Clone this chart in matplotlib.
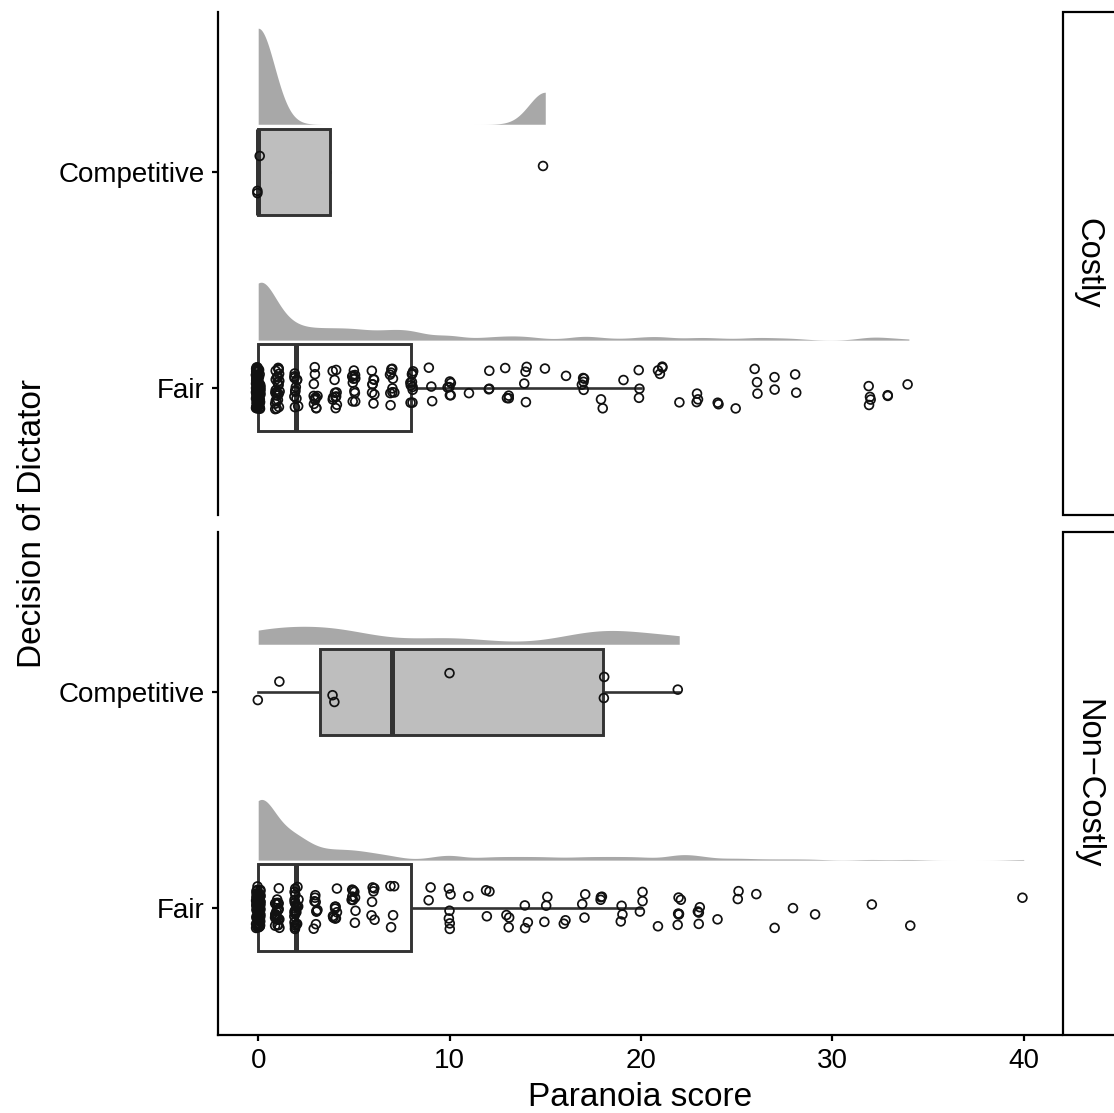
import numpy as np
import matplotlib
matplotlib.use("Agg")
import matplotlib.pyplot as plt
from matplotlib.patches import Rectangle

plt.rcParams["font.family"] = ["Liberation Sans", "DejaVu Sans"]

# facet rows and y categories
CONDITIONS = ["Costly", "Non\u2212Costly"]
DECISIONS = ["Fair", "Competitive"]

# Paranoia scores (value -> number of respondents)
FAIR_COSTLY_SCORES = [0, 1, 2, 3, 4, 5, 6, 7, 8, 9, 10, 11, 12, 13, 14, 15, 16, 17, 18, 19, 20,
                      21, 22, 23, 24, 25, 26, 27, 28, 32, 33, 34]
FAIR_COSTLY_COUNTS = [84, 26, 12, 11, 11, 11, 8, 10, 10, 3, 6, 1, 3, 4, 4, 1, 1, 5, 2, 1, 3,
                      4, 1, 3, 2, 1, 3, 2, 2, 4, 2, 1]
COMP_COSTLY = [0, 0, 0, 15]

FAIR_NONCOSTLY_SCORES = [0, 1, 2, 3, 4, 5, 6, 7, 9, 10, 11, 12, 13, 14, 15, 16, 17, 18, 19, 20,
                         21, 22, 23, 24, 25, 26, 27, 28, 29, 32, 34, 40]
FAIR_NONCOSTLY_COUNTS = [80, 26, 24, 9, 9, 9, 6, 4, 2, 6, 1, 3, 3, 3, 3, 2, 3, 3, 3, 3,
                         1, 6, 4, 1, 2, 1, 1, 1, 1, 1, 1, 1]
COMP_NONCOSTLY = [0, 1, 4, 4, 10, 18, 18, 22]

DATA = {
    ("Costly", "Fair"): np.repeat(FAIR_COSTLY_SCORES, FAIR_COSTLY_COUNTS).astype(float),
    ("Costly", "Competitive"): np.array(COMP_COSTLY, dtype=float),
    ("Non\u2212Costly", "Fair"): np.repeat(FAIR_NONCOSTLY_SCORES, FAIR_NONCOSTLY_COUNTS).astype(float),
    ("Non\u2212Costly", "Competitive"): np.array(COMP_NONCOSTLY, dtype=float),
}

# kernel bandwidths for the half violins
BANDWIDTH = {
    ("Costly", "Fair"): 0.75,
    ("Costly", "Competitive"): 0.85,
    ("Non\u2212Costly", "Fair"): 0.75,
    ("Non\u2212Costly", "Competitive"): 2.2,
}

BOX_FILL = {"Fair": "white", "Competitive": "#BEBEBE"}
CLOUD = "#A8A8A8"
LINE = "#333333"
W, H = 1114, 1113


def kde(values, bw, grid):
    z = (grid[:, None] - values[None, :]) / bw
    return np.exp(-0.5 * z ** 2).sum(axis=1) / (len(values) * bw * np.sqrt(2 * np.pi))


def box_stats(values):
    q1, med, q3 = np.percentile(values, [25, 50, 75])
    iqr = q3 - q1
    lo = values[values >= q1 - 1.5 * iqr].min()
    hi = values[values <= q3 + 1.5 * iqr].max()
    return {"q1": q1, "med": med, "q3": q3, "whislo": lo, "whishi": hi, "fliers": []}


curves = {}
for key, values in DATA.items():
    grid = np.linspace(values.min(), values.max(), 600)
    curves[key] = (grid, kde(values, BANDWIDTH[key], grid))
dens_max = max(d.max() for _, d in curves.values())

fig = plt.figure(figsize=(W / 100, H / 100), dpi=100)
rng = np.random.default_rng(11)

panel_px = [(12, 515), (532, 1035)]
axes = []
for (top, bottom), cond in zip(panel_px, CONDITIONS):
    ax = fig.add_axes([218 / W, 1 - bottom / H, (1062 - 218) / W, (bottom - top) / H])
    axes.append(ax)
    for pos, dec in enumerate(DECISIONS, start=1):
        values = DATA[(cond, dec)]
        grid, dens = curves[(cond, dec)]
        base = pos + 0.22
        ax.fill_between(grid, base, base + dens / dens_max * 0.445,
                        color=CLOUD, linewidth=0, zorder=1)

        parts = ax.bxp([box_stats(values)], positions=[pos], widths=0.4,
                       orientation="horizontal", patch_artist=True,
                       showcaps=False, showfliers=False,
                       boxprops=dict(facecolor=BOX_FILL[dec], edgecolor=LINE, linewidth=2.1),
                       whiskerprops=dict(color=LINE, linewidth=1.9),
                       medianprops=dict(color=LINE, linewidth=3.6, solid_capstyle="butt"))
        for w in parts["whiskers"]:
            w.set_zorder(1.5)
        for b in parts["boxes"]:
            b.set_zorder(2)
        for m in parts["medians"]:
            m.set_zorder(2.1)

        jx = rng.uniform(-0.12, 0.12, len(values))
        jy = rng.uniform(-0.1, 0.1, len(values))
        ax.scatter(values + jx, pos + jy, s=40, facecolors="none",
                   edgecolors="#111111", linewidths=1.25, zorder=3)

    ax.set_xlim(-2.1, 42)
    ax.set_ylim(0.41, 2.74)
    ax.set_yticks([1, 2])
    ax.set_yticklabels(DECISIONS)
    for side in ["top", "right", "bottom"]:
        ax.spines[side].set_visible(False)
    ax.spines["left"].set_linewidth(1.6)
    ax.tick_params(axis="y", length=4.5, width=1.6, pad=5, labelsize=20, colors="black")
    ax.tick_params(axis="x", length=4.5, width=1.6, pad=5, labelsize=20)

    # facet strip on the right
    fig.add_artist(Rectangle((1063 / W, 1 - bottom / H), 80 / W, (bottom - top) / H,
                             transform=fig.transFigure, facecolor="white",
                             edgecolor="black", linewidth=1.6, clip_on=False))
    fig.text(1088 / W, 1 - (top + bottom) / 2 / H, cond, rotation=-90,
             ha="center", va="center", fontsize=23.5)

axes[0].set_xticks([])
axes[1].spines["bottom"].set_visible(True)
axes[1].spines["bottom"].set_linewidth(1.6)
axes[1].set_xticks([0, 10, 20, 30, 40])

fig.text(640 / W, 1 - 1097 / H, "Paranoia score", ha="center", va="center", fontsize=24)
fig.text(33 / W, 1 - 523 / H, "Decision of Dictator", rotation=90,
         ha="center", va="center", fontsize=24)

fig.savefig("out.png", dpi=100)
